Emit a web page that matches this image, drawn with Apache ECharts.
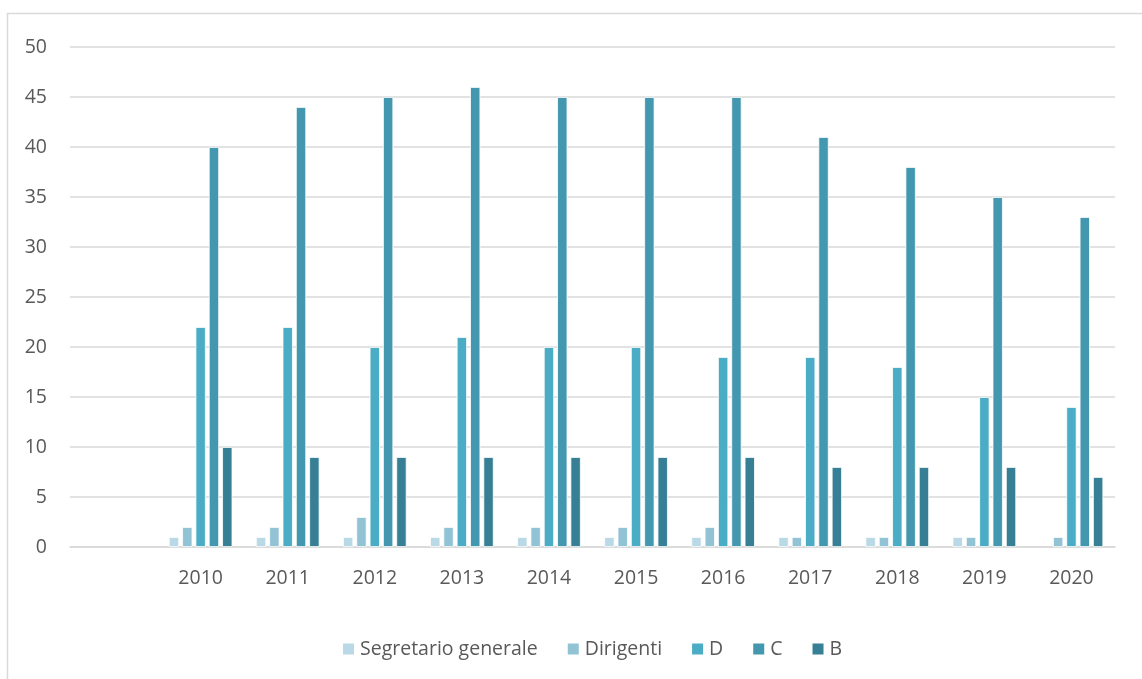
<!DOCTYPE html>
<html>
<head>
    <meta charset="utf-8">
    <title>ECharts</title>
    <script src="https://cdn.jsdelivr.net/npm/echarts@6/dist/echarts.min.js"></script>
    <style>
        html, body { margin: 0; padding: 0; background: #fff; }
    </style>
</head>
<body>
    <div id="main" style="width: 1142px;height:679px;"></div>
    <script type="text/javascript">
        // categorie (la prima è vuota come nell'originale)
        var anni = ['', '2010', '2011', '2012', '2013', '2014', '2015', '2016', '2017', '2018', '2019', '2020'];
        var segretario = [null, 1, 1, 1, 1, 1, 1, 1, 1, 1, 1, null];
        var dirigenti = [null, 2, 2, 3, 2, 2, 2, 2, 1, 1, 1, 1];
        var catD = [null, 22, 22, 20, 21, 20, 20, 19, 19, 18, 15, 14];
        var catC = [null, 40, 44, 45, 46, 45, 45, 45, 41, 38, 35, 33];
        var catB = [null, 10, 9, 9, 9, 9, 9, 9, 8, 8, 8, 7];

        var nomi = ['Segretario generale', 'Dirigenti', 'D', 'C', 'B'];
        var colori = ['#b8d9e5', '#91c3d4', '#4bacc6', '#4397af', '#367f94'];
        var valori = [segretario, dirigenti, catD, catC, catB];

        var myChart = echarts.init(document.getElementById('main'));

        var serie = nomi.map(function (n, i) {
            return {
                name: n,
                type: 'bar',
                data: valori[i],
                barGap: '30%',
                barCategoryGap: '27%',
                itemStyle: { color: colori[i], borderColor: '#fff', borderWidth: 0.8 }
            };
        });

        myChart.setOption({
            animation: false,
            textStyle: { fontFamily: 'Open Sans' },
            graphic: [{
                type: 'rect',
                shape: { x: 7.5, y: 13.5, width: 1150, height: 700 },
                style: { fill: 'none', stroke: '#d9d9d9', lineWidth: 1.5 },
                silent: true
            }],
            legend: {
                data: nomi,
                bottom: 15,
                left: 336,
                itemWidth: 13,
                itemHeight: 13,
                itemGap: 28,
                icon: 'rect',
                textStyle: { color: '#595959', fontSize: 19.5 }
            },
            grid: { left: 70, right: 27, top: 47, bottom: 132 },
            xAxis: {
                type: 'category',
                data: anni,
                axisTick: { show: false },
                axisLine: { lineStyle: { color: '#d9d9d9', width: 1.5 } },
                axisLabel: { color: '#595959', fontSize: 19.5, margin: 21 }
            },
            yAxis: {
                type: 'value',
                min: 0,
                max: 50,
                interval: 5,
                axisLine: { show: false },
                axisTick: { show: false },
                axisLabel: { color: '#595959', fontSize: 19.5, margin: 23 },
                splitLine: { lineStyle: { color: '#d9d9d9', width: 1.5 } }
            },
            series: serie
        });
    </script>
</body>
</html>
